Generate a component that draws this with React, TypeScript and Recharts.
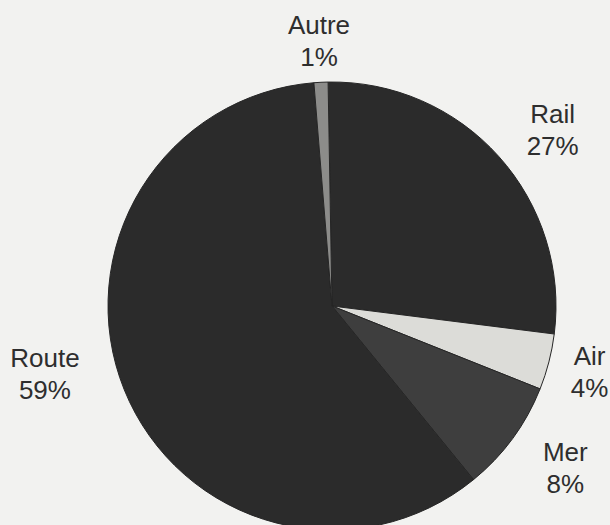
import { Cell, Pie, PieChart } from "recharts";

const modes = ["Rail", "Air", "Mer", "Route", "Autre"];
const shares = [27, 4, 8, 59, 1];
const sliceColors = ["#2b2b2b", "#dcdcd8", "#3e3e3e", "#2b2b2b", "#8c8c8a"];

// hand-tuned label placement (extra radius, angle shift in degrees clockwise)
const LABEL_NUDGE: Record<string, { dr: number; da: number }> = {
  Rail: { dr: 58, da: 3.4 },
  Air: { dr: 42, da: 0 },
  Mer: { dr: 60, da: -1.5 },
  Route: { dr: 71, da: 8.6 },
  Autre: { dr: 41, da: 0 },
};

const data = modes.map((name, i) => ({ name, value: shares[i] }));

const RADIAN = Math.PI / 180;

function renderLabel(props: any) {
  const { cx, cy, midAngle, outerRadius, index } = props;
  const name = modes[index];
  const nudge = LABEL_NUDGE[name] ?? { dr: 45, da: 0 };
  // recharts angles run counter-clockwise from 3 o'clock
  const angle = midAngle - nudge.da;
  const r = outerRadius + nudge.dr;
  const x = cx + r * Math.cos(-angle * RADIAN);
  const y = cy + r * Math.sin(-angle * RADIAN);

  return (
    <text
      x={x}
      y={y}
      textAnchor="middle"
      fill="#2e2e2e"
      fontSize={26}
      fontFamily="'Liberation Sans', Arial, sans-serif"
    >
      <tspan x={x} y={y - 7}>
        {name}
      </tspan>
      <tspan x={x} y={y + 25}>
        {`${shares[index]}%`}
      </tspan>
    </text>
  );
}

export default function App() {
  return (
    <div style={{ position: "absolute", left: 0, top: 0, width: 610, height: 525, background: "#f2f2f0" }}>
      <PieChart width={610} height={525} margin={{ top: 0, right: 0, bottom: 0, left: 0 }}>
        <Pie
          data={data}
          dataKey="value"
          nameKey="name"
          cx={332}
          cy={306}
          outerRadius={224}
          startAngle={91}
          endAngle={-269}
          stroke="#262626"
          strokeWidth={1}
          label={renderLabel}
          labelLine={false}
          isAnimationActive={false}
        >
          {data.map((entry, i) => (
            <Cell key={entry.name} fill={sliceColors[i]} />
          ))}
        </Pie>
      </PieChart>
    </div>
  );
}
